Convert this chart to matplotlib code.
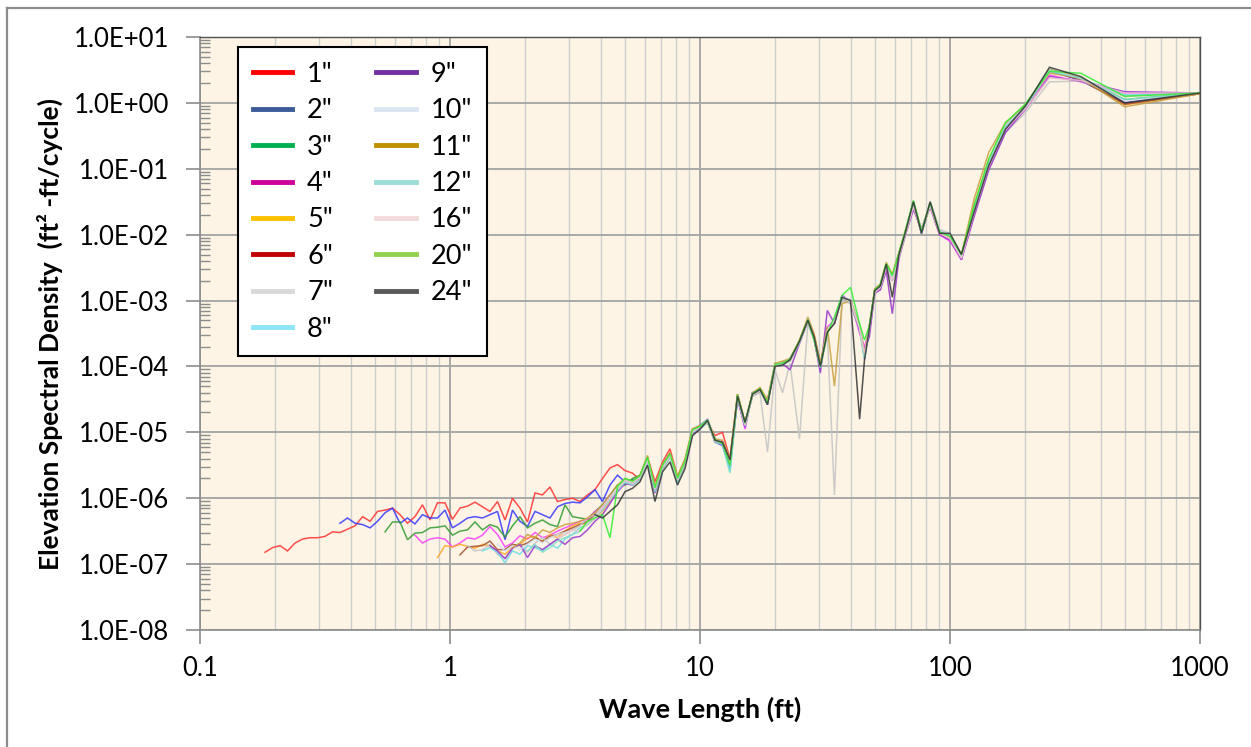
import numpy as np
import matplotlib
matplotlib.use("Agg")
import matplotlib.pyplot as plt
from matplotlib.lines import Line2D
from matplotlib.ticker import FixedLocator, FixedFormatter, LogLocator, NullFormatter

plt.rcParams['font.family'] = ['Lato', 'DejaVu Sans']

# Wave lengths (ft) of the spectral estimates, shortest first
wavelength_ft = [
    0.182, 0.195, 0.209, 0.224, 0.240, 0.257, 0.275, 0.295, 0.316, 0.339,
    0.363, 0.389, 0.417, 0.447, 0.479, 0.513, 0.550, 0.589, 0.631, 0.676,
    0.724, 0.776, 0.832, 0.891, 0.955, 1.023, 1.096, 1.175, 1.259, 1.349,
    1.445, 1.549, 1.660, 1.778, 1.905, 2.042, 2.188, 2.344, 2.512, 2.692,
    2.884, 3.090, 3.311, 3.548, 3.802, 4.074, 4.365, 4.677, 5.012, 5.370,
    5.754, 6.166, 6.607, 7.079, 7.586, 8.128, 8.710, 9.333, 10.00, 10.72,
    11.48, 12.30, 13.18, 14.13, 15.14, 16.22, 17.38, 18.62, 19.95, 21.38, 22.91,
    25.0, 27.0, 28.6, 30.3, 32.3, 34.5, 37.0, 40.0, 43.5, 45.5,
    47.6, 50.0, 52.6, 55.6, 58.8, 62.5, 66.7, 71.4, 76.9, 83.3,
    90.9, 100.0, 111.1, 125.0, 142.9, 166.7, 200.0, 250.0, 333.3, 500.0, 1000.0,
]
N_SHORT = 45  # estimates below 4 ft differ in length between sample spacings

labels = ['1"', '2"', '3"', '4"', '5"', '6"', '7"', '8"',
          '9"', '10"', '11"', '12"', '16"', '20"', '24"']

line_colors = ['#FF3030', '#3535FF', '#2E9B2E', '#FF3DFF', '#FFA726', '#A0522D',
               '#C4C4C4', '#6ADBE8', '#9933CC', '#CFDDF0', '#C8A040', '#7FE0CC',
               '#F0C4CC', '#33EE33', '#333333']
legend_colors = ['#FF0000', '#3A5A98', '#00B050', '#CC0099', '#FFC000', '#C00000',
                 '#D9D9D9', '#8DE6F7', '#7030A0', '#DCE6F2', '#BF9000', '#99DDD5',
                 '#F2DCDB', '#92D050', '#595959']

# log10 of elevation spectral density, wave lengths below 4 ft
log_psd_short = {
    '1"': [-6.82, -6.75, -6.72, -6.80, -6.68, -6.62, -6.60, -6.60, -6.58, -6.51,
           -6.52, -6.47, -6.42, -6.28, -6.35, -6.20, -6.18, -6.15, -6.25, -6.38,
           -6.28, -6.10, -6.33, -6.07, -6.07, -6.32, -6.15, -6.12, -6.06, -6.13,
           -6.20, -6.05, -6.33, -6.00, -6.15, -6.36, -5.92, -5.95, -5.83, -6.05,
           -6.02, -6.00, -6.05, -5.95, -5.87],
    '2"': [-6.38, -6.30, -6.38, -6.40, -6.45, -6.35, -6.22, -6.15, -6.38, -6.30,
           -6.39, -6.25, -6.30, -6.30, -6.18, -6.45, -6.38, -6.30, -6.28, -6.30,
           -6.25, -6.20, -6.63, -6.18, -6.35, -6.43, -6.20, -6.25, -6.30, -6.13,
           -6.08, -6.06, -6.07, -5.98, -5.87],
    '3"': [-6.51, -6.36, -6.36, -6.63, -6.53, -6.52, -6.45, -6.44, -6.42, -6.56,
           -6.50, -6.48, -6.36, -6.48, -6.40, -6.44, -6.59, -6.42, -6.28, -6.45,
           -6.38, -6.33, -6.40, -6.43, -6.10, -6.28, -6.30, -6.32, -6.20],
    '4"': [-6.56, -6.68, -6.62, -6.60, -6.62, -6.74, -6.68, -6.60, -6.62, -6.56,
           -6.43, -6.55, -6.74, -6.68, -6.57, -6.62, -6.52, -6.60, -6.56, -6.50,
           -6.45, -6.40, -6.35, -6.32, -6.20],
    '5"': [-6.90, -6.72, -6.74, -6.70, -6.73, -6.76, -6.70, -6.72, -6.80, -6.85,
           -6.75, -6.70, -6.60, -6.58, -6.66, -6.55, -6.60, -6.50, -6.42, -6.38,
           -6.40, -6.30],
    '6"': [-6.86, -6.74, -6.73, -6.72, -6.65, -6.78, -6.78, -6.70, -6.72, -6.68,
           -6.60, -6.65, -6.58, -6.55, -6.50, -6.45, -6.40, -6.35, -6.25],
    '7"': [-6.72, -6.80, -6.78, -6.70, -6.85, -6.90, -6.75, -6.70, -6.82, -6.68,
           -6.60, -6.70, -6.62, -6.55, -6.48, -6.42, -6.30, -6.25],
    '8"': [-6.80, -6.75, -6.82, -6.98, -6.80, -6.85, -6.72, -6.75, -6.80, -6.70,
           -6.76, -6.62, -6.55, -6.50, -6.38, -6.30],
    '9"': [-6.72, -6.80, -6.92, -6.76, -6.70, -6.90, -6.72, -6.78, -6.70, -6.62,
           -6.70, -6.60, -6.58, -6.48, -6.35],
    '10"': [-6.70, -6.80, -6.72, -6.78, -6.70, -6.62, -6.68, -6.60, -6.55, -6.52,
            -6.50, -6.45, -6.40, -6.28],
    '11"': [-6.75, -6.68, -6.55, -6.60, -6.48, -6.52, -6.45, -6.40, -6.38, -6.35,
            -6.30, -6.22],
    '12"': [-6.80, -6.70, -6.82, -6.75, -6.65, -6.60, -6.55, -6.45, -6.40, -6.30],
    '16"': [-6.60, -6.55, -6.48, -6.50, -6.38, -6.30],
    '20"': [-6.50, -6.35, -6.30],
    '24"': [-6.25],
}

# log10 of elevation spectral density, wave lengths from 4 ft to 1000 ft
log_psd_long = {
    '1"': [-5.70, -5.54, -5.49, -5.58, -5.62, -5.72, -5.38, -5.75, -5.45, -5.25,
           -5.68, -5.42, -4.95, -4.90, -4.85, -5.05, -5.00, -5.40, -4.42, -4.85,
           -4.45, -4.38, -4.52, -4.00, -3.93, -3.92,
           -3.60, -3.32, -3.52, -3.95, -3.48, -3.32, -2.97, -3.02, -3.45, -3.80,
           -3.38, -2.88, -2.80, -2.48, -2.62, -2.28, -1.95, -1.55, -1.98, -1.55,
           -1.97, -2.02, -2.35, -1.62, -0.92, -0.37, -0.06, 0.48, 0.35, -0.01, 0.14],
    '2"': [-6.05, -5.80, -5.65, -5.75, -5.72, -5.70, -5.42, -5.85, -5.50, -5.32,
           -5.70, -5.48, -5.00, -4.90, -4.80, -5.15, -5.20, -5.55, -4.48, -4.90,
           -4.40, -4.36, -4.58, -3.97, -3.96, -3.88,
           -3.64, -3.28, -3.57, -4.03, -3.43, -3.28, -2.93, -3.02, -3.38, -3.88,
           -3.42, -2.83, -2.76, -2.47, -2.68, -2.32, -1.92, -1.50, -1.98, -1.53,
           -1.96, -2.02, -2.36, -1.63, -0.95, -0.40, -0.07, 0.49, 0.34, 0.00, 0.14],
    '3"': [-6.10, -5.95, -5.80, -5.80, -5.70, -5.65, -5.38, -5.90, -5.55, -5.38,
           -5.75, -5.44, -4.97, -4.94, -4.84, -5.10, -5.18, -5.48, -4.44, -4.86,
           -4.43, -4.33, -4.56, -3.99, -3.94, -3.91,
           -3.61, -3.31, -3.54, -3.98, -3.46, -3.31, -2.96, -2.99, -3.41, -3.83,
           -3.41, -2.86, -2.77, -2.44, -2.64, -2.29, -1.94, -1.53, -1.95, -1.51,
           -1.94, -1.99, -2.32, -1.58, -0.88, -0.34, -0.04, 0.51, 0.37, 0.05, 0.15],
    '4"': [-6.12, -5.95, -5.88, -5.70, -5.80, -5.66, -5.42, -5.84, -5.50, -5.33,
           -5.70, -5.47, -4.99, -4.93, -4.80, -5.13, -5.14, -5.50, -4.47, -4.95,
           -4.40, -4.36, -4.53, -3.97, -3.96, -3.89,
           -3.63, -3.30, -3.58, -4.02, -3.40, -3.30, -2.94, -3.01, -3.50, -3.70,
           -3.45, -2.90, -2.82, -2.52, -2.70, -2.32, -1.95, -1.60, -1.90, -1.58,
           -2.00, -2.10, -2.38, -1.68, -0.98, -0.40, -0.08, 0.42, 0.32, 0.15, 0.15],
    '5"': [-6.20, -6.05, -5.84, -5.74, -5.76, -5.70, -5.42, -5.86, -5.53, -5.36,
           -5.70, -5.46, -4.97, -4.91, -4.83, -5.10, -5.16, -5.44, -4.46, -4.87,
           -4.44, -4.34, -4.54, -3.98, -3.96, -3.90,
           -3.62, -3.31, -3.56, -3.99, -3.44, -3.31, -2.96, -3.01, -3.40, -3.82,
           -3.40, -2.84, -2.79, -2.46, -2.66, -2.31, -1.93, -1.52, -1.97, -1.52,
           -1.95, -2.00, -2.33, -1.55, -0.86, -0.33, -0.04, 0.50, 0.38, -0.03, 0.14],
    '6"': [-6.15, -6.00, -5.86, -5.72, -5.78, -5.69, -5.41, -5.88, -5.51, -5.36,
           -5.72, -5.45, -4.98, -4.93, -4.82, -5.12, -5.15, -5.46, -4.45, -4.88,
           -4.42, -4.35, -4.55, -3.98, -3.95, -3.90,
           -3.62, -3.30, -3.55, -4.00, -3.45, -3.30, -2.95, -3.00, -3.42, -3.86,
           -3.40, -2.85, -2.78, -2.45, -2.65, -2.30, -1.93, -1.52, -1.96, -1.52,
           -1.95, -2.00, -2.33, -1.60, -0.90, -0.35, -0.05, 0.49, 0.35, -0.02, 0.14],
    '7"': [-6.18, -6.02, -5.88, -5.75, -5.80, -5.70, -5.45, -5.90, -5.55, -5.38,
           -5.75, -5.50, -5.00, -4.95, -4.85, -5.15, -5.18, -5.50, -4.48, -4.90,
           -4.45, -4.40, -5.30, -4.05, -4.40, -3.95,
           -5.10, -3.35, -3.60, -4.05, -3.50, -5.95, -3.00, -3.05, -3.45, -3.90,
           -3.45, -2.90, -2.82, -2.50, -2.70, -2.38, -1.98, -1.58, -1.92, -1.50,
           -1.92, -1.98, -2.30, -1.70, -1.00, -0.45, -0.15, 0.32, 0.33, 0.10, 0.15],
    '8"': [-6.15, -6.02, -5.85, -5.73, -5.78, -5.68, -5.40, -5.86, -5.52, -5.35,
           -5.72, -5.46, -4.99, -4.92, -4.83, -5.12, -5.16, -5.60, -4.46, -4.88,
           -4.42, -4.36, -4.56, -3.98, -3.96, -3.91,
           -3.63, -3.31, -3.56, -4.01, -3.46, -3.31, -2.96, -3.01, -3.41, -3.86,
           -3.41, -2.86, -2.78, -2.46, -2.66, -2.31, -1.94, -1.53, -1.97, -1.53,
           -1.96, -2.01, -2.34, -1.61, -0.91, -0.36, -0.06, 0.48, 0.37, 0.12, 0.15],
    '9"': [-6.25, -6.08, -5.90, -5.78, -5.80, -5.70, -5.44, -5.92, -5.55, -5.36,
           -5.74, -5.47, -5.02, -4.95, -4.84, -5.14, -5.18, -5.48, -4.50, -4.92,
           -4.40, -4.35, -4.55, -3.98, -3.96, -4.05,
           -3.65, -3.32, -3.58, -4.10, -3.15, -3.35, -2.92, -3.02, -3.45, -3.75,
           -3.55, -2.88, -2.84, -2.55, -3.20, -2.35, -1.97, -1.62, -1.92, -1.58,
           -2.00, -2.08, -2.38, -1.72, -1.02, -0.45, -0.10, 0.40, 0.33, 0.17, 0.15],
    '10"': [-6.12, -5.98, -5.84, -5.71, -5.76, -5.67, -5.41, -5.86, -5.51, -5.34,
            -5.71, -5.44, -4.97, -4.91, -4.81, -5.11, -5.14, -5.44, -4.44, -4.87,
            -4.41, -4.34, -4.54, -3.97, -3.94, -3.89,
            -3.61, -3.29, -3.54, -3.99, -3.44, -3.29, -2.94, -2.99, -3.39, -3.84,
            -3.39, -2.84, -2.77, -2.44, -2.64, -2.29, -1.92, -1.51, -1.95, -1.51,
            -1.94, -1.99, -2.32, -1.59, -0.89, -0.34, -0.04, 0.50, 0.37, 0.03, 0.15],
    '11"': [-6.10, -5.95, -5.80, -5.70, -5.74, -5.65, -5.35, -5.82, -5.48, -5.30,
            -5.66, -5.40, -4.95, -4.90, -4.85, -5.10, -5.12, -5.40, -4.42, -4.85,
            -4.40, -4.32, -4.50, -3.95, -3.92, -3.88,
            -3.60, -3.25, -3.50, -3.95, -3.40, -4.30, -3.05, -3.00, -3.38, -3.80,
            -3.38, -2.82, -2.75, -2.42, -2.60, -2.27, -1.90, -1.50, -1.95, -1.55,
            -1.98, -2.05, -2.30, -1.45, -0.75, -0.30, -0.03, 0.45, 0.38, -0.06, 0.14],
    '12"': [-6.18, -6.02, -5.88, -5.76, -5.80, -5.72, -5.44, -5.90, -5.56, -5.39,
            -5.76, -5.48, -5.00, -4.95, -4.85, -5.15, -5.18, -5.62, -4.48, -4.90,
            -4.44, -4.37, -4.57, -4.00, -3.97, -3.92,
            -3.64, -3.32, -3.57, -4.02, -3.47, -3.32, -2.97, -3.02, -3.42, -3.87,
            -3.42, -2.87, -2.80, -2.47, -2.67, -2.32, -1.95, -1.54, -1.98, -1.54,
            -1.97, -2.02, -2.35, -1.62, -0.92, -0.37, -0.07, 0.48, 0.38, 0.05, 0.15],
    '16"': [-6.15, -6.00, -5.86, -5.73, -5.78, -5.69, -5.42, -5.86, -5.53, -5.36,
            -5.72, -5.46, -4.99, -4.93, -4.83, -5.13, -5.16, -5.47, -4.46, -4.89,
            -4.43, -4.36, -4.56, -3.99, -3.96, -3.91,
            -3.63, -3.31, -3.56, -4.01, -3.46, -3.31, -2.96, -3.01, -3.42, -3.80,
            -3.43, -2.88, -2.80, -2.50, -2.68, -2.33, -1.96, -1.58, -1.93, -1.56,
            -1.98, -2.06, -2.36, -1.66, -0.96, -0.40, -0.09, 0.38, 0.34, 0.15, 0.15],
    '20"': [-6.25, -6.60, -5.82, -5.70, -5.74, -5.66, -5.38, -5.84, -5.50, -5.33,
            -5.70, -5.44, -4.96, -4.91, -4.81, -5.11, -5.17, -5.50, -4.43, -4.86,
            -4.41, -4.34, -4.55, -3.97, -3.95, -3.89,
            -3.61, -3.29, -3.60, -4.00, -3.50, -3.25, -2.92, -2.80, -3.35, -3.60,
            -3.38, -2.84, -2.76, -2.44, -2.62, -2.28, -1.90, -1.48, -1.94, -1.52,
            -1.96, -2.02, -2.30, -1.55, -0.85, -0.30, -0.02, 0.48, 0.45, 0.10, 0.15],
    '24"': [-6.30, -6.20, -6.10, -5.90, -5.85, -5.75, -5.50, -6.05, -5.60, -5.45,
            -5.80, -5.55, -5.05, -4.95, -4.82, -5.12, -5.15, -5.42, -4.45, -4.85,
            -4.42, -4.35, -4.58, -4.00, -3.98, -3.90,
            -3.62, -3.30, -3.55, -4.00, -3.48, -3.35, -2.95, -3.00, -4.80, -3.90,
            -3.42, -2.85, -2.78, -2.45, -2.95, -2.30, -1.93, -1.50, -1.98, -1.50,
            -1.98, -1.98, -2.30, -1.65, -0.95, -0.40, -0.05, 0.54, 0.40, 0.00, 0.15],
}

x_ticks = [0.1, 1, 10, 100, 1000]
x_tick_labels = ['0.1', '1', '10', '100', '1000']
y_ticks = [1e-8, 1e-7, 1e-6, 1e-5, 1e-4, 1e-3, 1e-2, 1e-1, 1e0, 1e1]
y_tick_labels = ['1.0E-08', '1.0E-07', '1.0E-06', '1.0E-05', '1.0E-04',
                 '1.0E-03', '1.0E-02', '1.0E-01', '1.0E+00', '1.0E+01']

W, H = 1251, 747
fig = plt.figure(figsize=(W / 100, H / 100), dpi=100)
fig.patch.set_facecolor('white')

# outer chart-area frame
fig.add_artist(Line2D([7 / W, 7 / W], [0, 1 - 8 / H], transform=fig.transFigure,
                      color='#8C8C8C', lw=1.6))
fig.add_artist(Line2D([7 / W, 1], [1 - 8 / H, 1 - 8 / H], transform=fig.transFigure,
                      color='#8C8C8C', lw=1.6))

ax = fig.add_axes([200 / W, 1 - 630 / H, 1000 / W, 593 / H])
ax.set_facecolor('#FDF4E5')
ax.set_xscale('log')
ax.set_yscale('log')
ax.set_xlim(0.1, 1000)
ax.set_ylim(1e-8, 10)

for lab, col in zip(labels, line_colors):
    short = log_psd_short[lab]
    tail = log_psd_long[lab]
    assert len(tail) == len(wavelength_ft) - N_SHORT, lab
    vals = np.array(short + tail)
    x = wavelength_ft[N_SHORT - len(short):]
    ax.plot(x, 10.0 ** vals, color=col, lw=1.1, alpha=0.85, solid_joinstyle='miter')

ax.xaxis.set_major_locator(FixedLocator(x_ticks))
ax.xaxis.set_major_formatter(FixedFormatter(x_tick_labels))
ax.xaxis.set_minor_locator(LogLocator(base=10, subs=np.arange(2, 10), numticks=30))
ax.xaxis.set_minor_formatter(NullFormatter())
ax.yaxis.set_major_locator(FixedLocator(y_ticks))
ax.yaxis.set_major_formatter(FixedFormatter(y_tick_labels))
ax.yaxis.set_minor_locator(LogLocator(base=10, subs=np.arange(2, 10), numticks=30))
ax.yaxis.set_minor_formatter(NullFormatter())

ax.set_axisbelow(True)
ax.grid(which='major', color='#A8A8A8', lw=1.4)
ax.grid(which='minor', axis='x', color='#CDCDCD', lw=1.0)

ax.tick_params(which='major', direction='out', length=10, width=1.2, color='#8C8C8C',
               labelsize=18.5, labelcolor='black')
ax.tick_params(axis='y', which='major', pad=12)
ax.tick_params(axis='x', which='major', pad=9)
ax.tick_params(axis='x', which='minor', length=0)
ax.tick_params(axis='y', which='minor', direction='in', length=7, width=1.0,
               color='#8C8C8C')

for side in ('left', 'bottom'):
    ax.spines[side].set_color('#8C8C8C')
    ax.spines[side].set_linewidth(1.2)
for side in ('top', 'right'):
    ax.spines[side].set_color('#505050')
    ax.spines[side].set_linewidth(1.0)

ax.set_xlabel('Wave Length (ft)', fontsize=19.5, fontweight='bold', labelpad=11)
ax.set_ylabel('Elevation Spectral Density  (ft\u00b2 -ft/cycle)', fontsize=19,
              fontweight='bold', labelpad=8)

handles = [Line2D([0], [0], color=c, lw=3.5) for c in legend_colors]
leg = ax.legend(handles, labels, ncol=2, loc='upper left',
                bbox_to_anchor=(238 / W, 1 - 47 / H), bbox_transform=fig.transFigure,
                borderaxespad=0, frameon=True, fancybox=False, framealpha=1,
                edgecolor='black', fontsize=19.5, handlelength=1.45, handletextpad=0.55,
                columnspacing=1.6, labelspacing=0.42, borderpad=0.55)
leg.get_frame().set_linewidth(1.5)

fig.savefig('out.png', dpi=100)
